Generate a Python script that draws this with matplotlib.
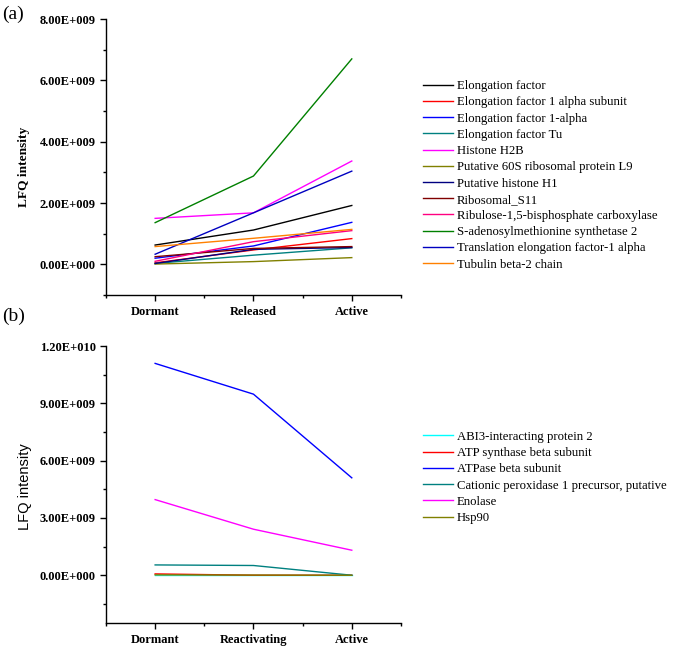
import numpy as np
import matplotlib
matplotlib.use('Agg')
from matplotlib import pyplot as plt
from matplotlib.ticker import MultipleLocator, FuncFormatter

# panel (a) data, values in units of 1e9
stages_a = ['Dormant', 'Released', 'Active']
names_a = ['Elongation factor', 'Elongation factor 1 alpha subunit', 'Elongation factor 1-alpha',
           'Elongation factor Tu', 'Histone H2B', 'Putative 60S ribosomal protein L9',
           'Putative histone H1', 'Ribosomal_S11', 'Ribulose-1,5-bisphosphate carboxylase',
           'S-adenosylmethionine synthetase 2', 'Translation elongation factor-1 alpha',
           'Tubulin beta-2 chain']
vals_a = [[0.63, 1.12, 1.92],
          [0.05, 0.47, 0.84],
          [0.20, 0.60, 1.37],
          [0.03, 0.30, 0.54],
          [1.50, 1.68, 3.37],
          [0.01, 0.09, 0.22],
          [0.03, 0.49, 0.55],
          [0.25, 0.52, 0.58],
          [0.10, 0.74, 1.10],
          [1.36, 2.88, 6.70],
          [0.33, 1.68, 3.04],
          [0.58, 0.85, 1.14]]
colors_a = ['#000000', '#FF0000', '#0000FF', '#008080', '#FF00FF', '#808000',
            '#000080', '#800000', '#FF0080', '#008000', '#0000C0', '#FF8000']

# panel (b) data
stages_b = ['Dormant', 'Reactivating', 'Active']
names_b = ['ABI3-interacting protein 2', 'ATP synthase beta subunit', 'ATPase beta subunit',
           'Cationic peroxidase 1 precursor, putative', 'Enolase', 'Hsp90']
vals_b = [[0.00, 0.00, 0.00],
          [0.07, 0.00, 0.00],
          [11.09, 9.48, 5.10],
          [0.54, 0.51, 0.00],
          [3.96, 2.41, 1.31],
          [0.02, 0.01, 0.00]]
colors_b = ['#00FFFF', '#FF0000', '#0000FF', '#008080', '#FF00FF', '#808000']

serif = 'Liberation Serif'


def sci(v, pos):
    if v == 0:
        return '0.00E+000'
    e = int(np.floor(np.log10(abs(v))))
    m = v / 10**e
    return '%.2fE+%03d' % (m, e)


def style_axes(ax, stages, major, ymin, ymax):
    ax.set_xlim(0.5, 3.5)
    ax.set_ylim(ymin, ymax)
    ax.set_xticks([1, 2, 3])
    ax.set_xticklabels(stages)
    ax.xaxis.set_minor_locator(MultipleLocator(0.5))
    ax.yaxis.set_major_locator(MultipleLocator(major))
    ax.yaxis.set_minor_locator(MultipleLocator(major / 2))
    ax.yaxis.set_major_formatter(FuncFormatter(sci))
    for s in ['top', 'right']:
        ax.spines[s].set_visible(False)
    for s in ['left', 'bottom']:
        ax.spines[s].set_linewidth(1.0)
    ax.tick_params(which='major', direction='out', length=4, width=1.0)
    ax.tick_params(which='minor', direction='out', length=2.5, width=1.0)
    ax.tick_params(axis='x', which='major', length=4.5)
    for lab in ax.get_xticklabels() + ax.get_yticklabels():
        lab.set_fontfamily(serif)
        lab.set_fontweight('bold')
        lab.set_fontsize(9)


fig = plt.figure(figsize=(6.75, 6.47), dpi=100)
x = np.arange(1, 4)
leg_kw = dict(loc='upper left', bbox_transform=fig.transFigure, frameon=False,
              prop={'family': serif, 'size': 9.2}, handlelength=2.4, handletextpad=0.3,
              labelspacing=0.33, borderaxespad=0, borderpad=0)

ax1 = fig.add_axes([0.157, 0.544, 0.437, 0.4266])
for name, v, c in zip(names_a, vals_a, colors_a):
    ax1.plot(x, np.array(v) * 1e9, color=c, lw=1.0, label=name)
style_axes(ax1, stages_a, 2e9, -1e9, 8e9)
ax1.set_ylabel('LFQ intensity', fontfamily=serif, fontweight='bold', fontsize=9.6)
ax1.yaxis.set_label_coords(-0.258, 0.464)
ax1.legend(bbox_to_anchor=(0.626, 0.876), **leg_kw)
fig.text(0.003, 0.978, '(a)', fontfamily=serif, fontsize=14, va='center')

ax2 = fig.add_axes([0.157, 0.0371, 0.437, 0.4281])
for name, v, c in zip(names_b, vals_b, colors_b):
    ax2.plot(x, np.array(v) * 1e9, color=c, lw=1.0, label=name)
style_axes(ax2, stages_b, 3e9, -2.5e9, 1.2e10)
ax2.set_ylabel('LFQ intensity', fontfamily='Liberation Sans', fontsize=10.5)
ax2.yaxis.set_label_coords(-0.251, 0.491)
ax2.legend(bbox_to_anchor=(0.626, 0.334), **leg_kw)
fig.text(0.003, 0.511, '(b)', fontfamily=serif, fontsize=14, va='center')

fig.savefig('out.png', dpi=100)
